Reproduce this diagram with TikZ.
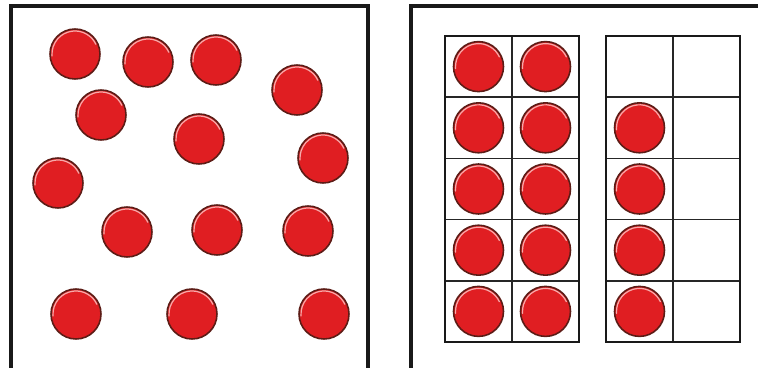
\documentclass[tikz,border=0pt]{standalone}
\usepackage{tikz}
\usepackage{xcolor}
\definecolor{chipred}{RGB}{224,30,34}
\definecolor{chiprim}{RGB}{92,28,22}
\definecolor{chipshine}{RGB}{246,170,170}

\begin{document}
\begin{tikzpicture}[x=0.02cm,y=-0.02cm,
    panel/.style={black!90,line width=1.9pt},
    framebox/.style={black!90,line width=1.6pt},
    cellline/.style={black!85,line width=0.8pt},
    chip/.style={fill=chipred,draw=chiprim,line width=0.9pt},
    chipglint/.style={chipshine,line width=0.7pt,line cap=round}]
        \useasboundingbox (0,0) rectangle (758,368);
        \clip (0,0) rectangle (758,368);
        \fill[white] (0,0) rectangle (758,368);
        \def\cw{67}
        \def\ch{61.2}
        % two panels
        \draw[panel] (11,6) rectangle (368,370.5);
        \draw[panel] (411,6) rectangle (775,370.5);
        % ten frames
        \foreach \fx in {445,606} {
          \foreach \r in {1,2,3,4}
            \draw[cellline] (\fx,{36+\r*\ch}) -- ++(2*\cw,0);
          \draw[cellline] (\fx+\cw,36) -- ++(0,5*\ch);
          \draw[framebox] (\fx,36) rectangle ++(2*\cw,5*\ch);
        }
        % loose counters
        \foreach \cx/\cy in {75/54,148/62,216/60,297/90,101/115,199/139,323/158,
                             58/183,127/232,217/230,308/231,76/314,192/314,324/314} {
          \path[chip] (\cx,\cy) circle (25);
          \draw[chipglint] (\cx,\cy) ++(175:23) arc (175:335:23);
        }
        % counters in frames
        \foreach \r in {0,...,4}
          \foreach \c in {0,1} {
            \path[chip] ({445+(\c+0.5)*\cw},{36+(\r+0.5)*\ch}) circle (25);
            \draw[chipglint] ({445+(\c+0.5)*\cw},{36+(\r+0.5)*\ch}) ++(175:23) arc (175:335:23);
          }
        \foreach \r in {1,...,4} {
          \path[chip] ({606+0.5*\cw},{36+(\r+0.5)*\ch}) circle (25);
          \draw[chipglint] ({606+0.5*\cw},{36+(\r+0.5)*\ch}) ++(175:23) arc (175:335:23);
        }
      \end{tikzpicture}
\end{document}
